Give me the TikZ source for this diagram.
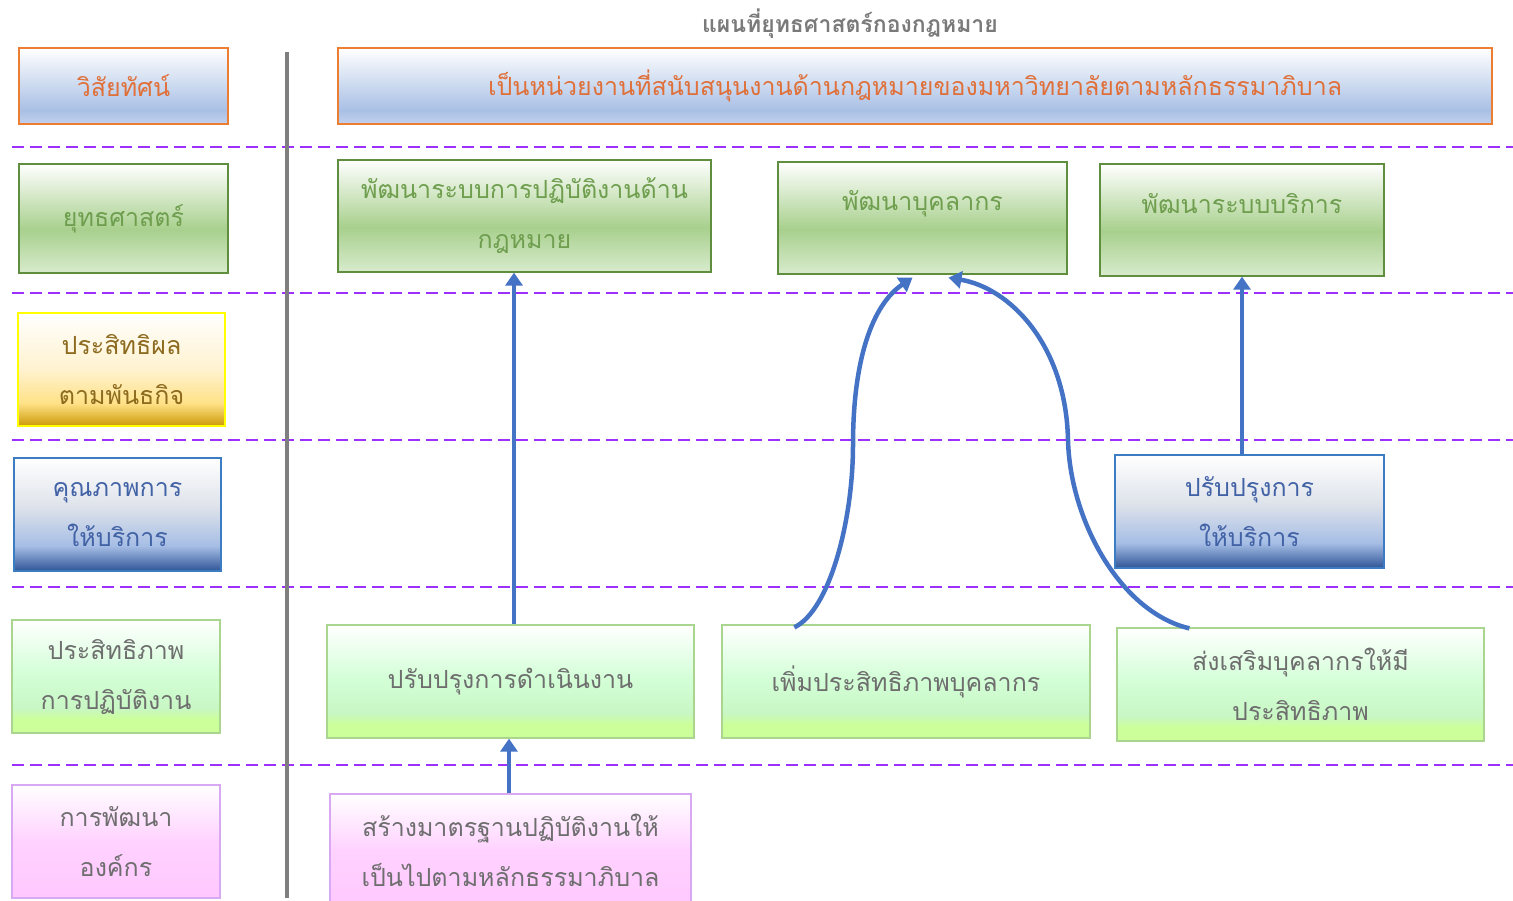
\documentclass[tikz,border=0pt]{standalone}
\usepackage{fontspec}
\newfontfamily\thai[Script=Thai]{Loma}
\usetikzlibrary{arrows.meta}
\definecolor{orng}{HTML}{ED7D31}
\definecolor{orngtxt}{HTML}{E0703A}
\definecolor{grnb}{HTML}{5E8E3E}
\definecolor{grntxt}{HTML}{6E9E4E}
\definecolor{ylwb}{HTML}{FFFF00}
\definecolor{ylwtxt}{HTML}{8C6A1E}
\definecolor{blub}{HTML}{3C7CC2}
\definecolor{blutxt}{HTML}{4262A6}
\definecolor{lgrnb}{HTML}{A9D58E}
\definecolor{pinkb}{HTML}{D8A8F2}
\definecolor{greytxt}{HTML}{6E6E6E}
\definecolor{titlegrey}{HTML}{7A7A7A}
\definecolor{sepc}{HTML}{9B30FF}
\definecolor{vline}{HTML}{7F7F7F}
\definecolor{arrc}{HTML}{4472C4}
% shading colours
\definecolor{vB}{HTML}{C3D2EE}\definecolor{vM}{HTML}{A9C0E5}
\definecolor{sB}{HTML}{D8EBCD}\definecolor{sM}{HTML}{A8D08D}
\definecolor{yB}{HTML}{CC9A06}\definecolor{yM}{HTML}{FFE186}\definecolor{yT}{HTML}{FFF2CF}
\definecolor{qB}{HTML}{2F5597}\definecolor{qM}{HTML}{A5BDE5}\definecolor{qT}{HTML}{DDE2EA}
\definecolor{eB}{HTML}{CCFF99}\definecolor{eM}{HTML}{C8F7C4}\definecolor{eT}{HTML}{D4FFD8}
\definecolor{pB}{HTML}{FFC8FF}\definecolor{pM}{HTML}{FFD2FF}
\pgfdeclareverticalshading{visionshade}{100bp}{color(0bp)=(vB); color(25bp)=(vB); color(34bp)=(vM); color(75bp)=(white); color(100bp)=(white)}
\pgfdeclareverticalshading{stratshade}{100bp}{color(0bp)=(sB); color(25bp)=(sB); color(45bp)=(sM); color(75bp)=(white); color(100bp)=(white)}
\pgfdeclareverticalshading{yellowshade}{100bp}{color(0bp)=(yB); color(25bp)=(yB); color(35bp)=(yM); color(50bp)=(yT); color(75bp)=(white); color(100bp)=(white)}
\pgfdeclareverticalshading{qualshade}{100bp}{color(0bp)=(qB); color(25bp)=(qB); color(36bp)=(qM); color(53bp)=(qT); color(75bp)=(white); color(100bp)=(white)}
\pgfdeclareverticalshading{effshade}{100bp}{color(0bp)=(eB); color(25bp)=(eB); color(31bp)=(eB); color(36bp)=(eM); color(52bp)=(eT); color(75bp)=(white); color(100bp)=(white)}
\pgfdeclareverticalshading{pinkshade}{100bp}{color(0bp)=(pB); color(25bp)=(pB); color(50bp)=(pM); color(75bp)=(white); color(100bp)=(white)}
\newcommand\thaitext{\thai\fontsize{25}{50}\selectfont}
\begin{document}
\begin{tikzpicture}[x=1pt,y=-1pt,
  box/.style={draw, line width=1.3pt, inner sep=0pt, align=center, font=\thaitext},
  vision/.style={box, draw=orng, shade, shading=visionshade, text=orngtxt},
  strat/.style={box, draw=grnb, shade, shading=stratshade, text=grntxt},
  yellowbox/.style={box, draw=ylwb, shade, shading=yellowshade, text=ylwtxt},
  qual/.style={box, draw=blub, shade, shading=qualshade, text=blutxt},
  eff/.style={box, draw=lgrnb, shade, shading=effshade, text=greytxt},
  org/.style={box, draw=pinkb, shade, shading=pinkshade, text=greytxt},
  txt/.style={inner sep=0pt, align=center, font=\thaitext},
  sep/.style={draw=sepc, line width=2pt, dash pattern=on 12pt off 6pt},
  arr/.style={draw=arrc, line width=4.5pt, -{Triangle[length=13pt,width=17pt]}}
]
\useasboundingbox (0,0) rectangle (1513,901);
% separators
\foreach \yy in {147,293,440,587,765} \draw[sep] (12,\yy) -- (1513,\yy);
\draw[vline, line width=3.5pt] (287,52) -- (287,898);
% title
\node[font=\thai\bfseries\fontsize{23}{25}\selectfont, text=titlegrey] (title) at (850,24) {แผนที่ยุทธศาสตร์กองกฎหมาย};
% left column
\node[vision, minimum width=209pt, minimum height=76pt] (lv) at (123.5,86) {วิสัยทัศน์};
\node[strat, minimum width=209pt, minimum height=109pt] (ls) at (123.5,218.5) {ยุทธศาสตร์};
\node[yellowbox, minimum width=207pt, minimum height=113pt] (ly) at (121.5,369.5) {ประสิทธิผล\\ตามพันธกิจ};
\node[qual, minimum width=207pt, minimum height=113pt] (lq) at (117.5,514.5) {คุณภาพการ\\ให้บริการ};
\node[eff, minimum width=208pt, minimum height=113pt] (le) at (116,676.5) {ประสิทธิภาพ\\การปฏิบัติงาน};
\node[org, minimum width=208pt, minimum height=113pt] (lo) at (116,841.5) {การพัฒนา\\องค์กร};
% right side
\node[vision, minimum width=1154pt, minimum height=76pt] (v) at (915,86) {เป็นหน่วยงานที่สนับสนุนงานด้านกฎหมายของมหาวิทยาลัยตามหลักธรรมาภิบาล};
\node[strat, minimum width=373pt, minimum height=112pt] (s1) at (524.5,216) {พัฒนาระบบการปฏิบัติงานด้าน\\กฎหมาย};
\node[strat, minimum width=289pt, minimum height=112pt] (s2) at (922.5,218) {};
\node[txt, text=grntxt] (s2t) at ([yshift=14pt]s2.center) {พัฒนาบุคลากร};
\node[strat, minimum width=284pt, minimum height=112pt] (s3) at (1242,220) {};
\node[txt, text=grntxt] (s3t) at ([yshift=16pt]s3.center) {พัฒนาระบบบริการ};
\node[qual, minimum width=269pt, minimum height=113pt] (q) at (1249.5,511.5) {ปรับปรุงการ\\ให้บริการ};
\node[eff, minimum width=367pt, minimum height=113pt] (e1) at (510.5,681.5) {ปรับปรุงการดำเนินงาน};
\node[eff, minimum width=368pt, minimum height=113pt] (e2) at (906,681.5) {เพิ่มประสิทธิภาพบุคลากร};
\node[eff, minimum width=367pt, minimum height=113pt] (e3) at (1300.5,684.5) {ส่งเสริมบุคลากรให้มี\\ประสิทธิภาพ};
\node[org, minimum width=361pt, minimum height=113pt] (o) at (510.5,850.5) {สร้างมาตรฐานปฏิบัติงานให้\\เป็นไปตามหลักธรรมาภิบาล};
% connectors
\draw[arr] ([xshift=3.5pt]e1.north) -- ([xshift=3.5pt]e1.north |- s1.south);
\draw[arr] ([xshift=-1.5pt]o.north) -- ([xshift=-1.5pt]o.north |- e1.south);
\draw[arr] (s3.south |- q.north) -- (s3.south);
\coordinate (m1) at (853,445);
\coordinate (m2) at (1068,440);
\draw[arr] ([xshift=73pt,yshift=-3pt]e2.north west) .. controls (830,610) and (853,520) .. (m1)
   .. controls (853,360) and (872,305) .. ([xshift=-10pt,yshift=-3pt]s2.south);
\draw[arr] ([xshift=73pt,yshift=-1pt]e3.north west) .. controls (1120,612) and (1070,520) .. (m2)
   .. controls (1066,345) and (1010,288) .. ([xshift=26pt,yshift=-3pt]s2.south);
\end{tikzpicture}
\end{document}
